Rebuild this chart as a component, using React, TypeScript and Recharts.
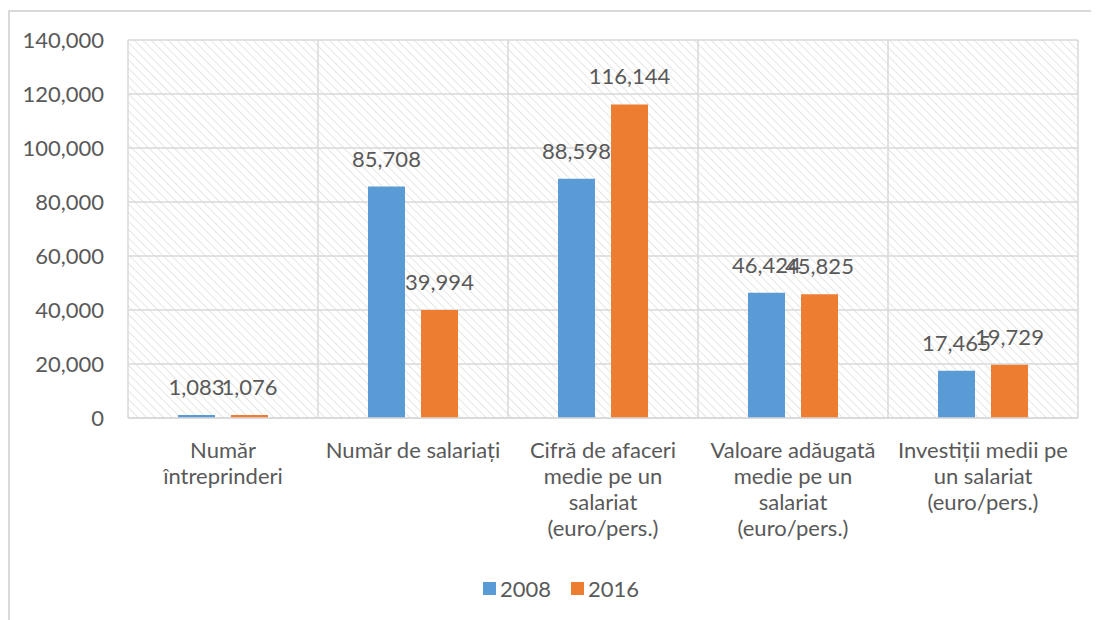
import { BarChart, Bar, XAxis, YAxis, CartesianGrid, Legend, LabelList } from 'recharts';

const categories = [
  'Număr întreprinderi',
  'Număr de salariați',
  'Cifră de afaceri medie pe un salariat (euro/pers.)',
  'Valoare adăugată medie pe un salariat (euro/pers.)',
  'Investiții medii pe un salariat (euro/pers.)',
];

// how each category label wraps under the axis
const categoryLines = [
  ['Număr', 'întreprinderi'],
  ['Număr de salariați'],
  ['Cifră de afaceri', 'medie pe un', 'salariat', '(euro/pers.)'],
  ['Valoare adăugată', 'medie pe un', 'salariat', '(euro/pers.)'],
  ['Investiții medii pe', 'un salariat', '(euro/pers.)'],
];

const values2008 = [1083, 85708, 88598, 46424, 17465];
const values2016 = [1076, 39994, 116144, 45825, 19729];

const yTicks = [0, 20000, 40000, 60000, 80000, 100000, 120000, 140000];

const data = categories.map((name, i) => ({
  name,
  y2008: values2008[i],
  y2016: values2016[i],
}));

const FONT = 'Lato, "Liberation Sans", sans-serif';
const TEXT = '#595959';
const GRID = '#d9d9d9';
const FS = 22;

const fmt = (v: number) => v.toLocaleString('en-US');

function CategoryTick({ x, y, payload }: any) {
  const idx = categories.indexOf(payload.value);
  const lines = idx >= 0 ? categoryLines[idx] : [payload.value];
  return (
    <text x={x} y={y} textAnchor="middle" fill={TEXT} fontSize={FS} fontFamily={FONT}>
      {lines.map((l: string, i: number) => (
        <tspan key={i} x={x} dy={i === 0 ? 32 : 26}>
          {l}
        </tspan>
      ))}
    </text>
  );
}

function LegendContent({ payload }: any) {
  return (
    <div
      style={{
        display: 'flex',
        justifyContent: 'center',
        gap: 20,
        paddingLeft: 16,
        fontFamily: FONT,
        fontSize: FS,
        color: TEXT,
      }}
    >
      {(payload || []).map((p: any) => (
        <div key={p.value} style={{ display: 'flex', alignItems: 'center', gap: 4 }}>
          <span style={{ width: 13, height: 13, background: p.color, display: 'inline-block' }} />
          <span>{p.value}</span>
        </div>
      ))}
    </div>
  );
}

export default function App() {
  return (
    <div style={{ position: 'relative', width: 1091, height: 612, overflow: 'hidden' }}>
      <div
        style={{
          position: 'absolute',
          left: 0,
          top: 2,
          width: 1200,
          height: 700,
          border: `2px solid ${GRID}`,
        }}
      />
      <div style={{ position: 'absolute', left: 0, top: 0 }}>
        <BarChart
          width={1091}
          height={612}
          data={data}
          margin={{ top: 32, right: 21, left: 20, bottom: 18 }}
          barSize={37}
          barGap={16}
        >
          <defs>
            <pattern id="hatch" width={6} height={6} patternUnits="userSpaceOnUse" patternTransform="rotate(-45)">
              <rect width={6} height={6} fill="#ffffff" />
              <line x1={0} y1={0} x2={0} y2={6} stroke="#e6e6e6" strokeWidth={2} />
            </pattern>
          </defs>
          <CartesianGrid
            stroke={GRID}
            strokeWidth={1.5}
            fill="url(#hatch)"
            fillOpacity={1}
            verticalCoordinatesGenerator={({ offset }: any) =>
              categories.map((_, i) => offset.left + (i * offset.width) / categories.length).concat(offset.left + offset.width)
            }
          />
          <XAxis
            dataKey="name"
            tick={<CategoryTick />}
            tickLine={false}
            axisLine={{ stroke: GRID, strokeWidth: 1.5 }}
            interval={0}
            height={157}
          />
          <YAxis
            domain={[0, 140000]}
            ticks={yTicks}
            tickFormatter={fmt}
            axisLine={false}
            tickLine={false}
            tickSize={0}
            tickMargin={24}
            width={100}
            tick={{ fill: TEXT, fontSize: FS, fontFamily: FONT }}
          />
          <Legend verticalAlign="bottom" content={<LegendContent />} />
          <Bar dataKey="y2008" name="2008" fill="#5B9BD5" isAnimationActive={false}>
            <LabelList dataKey="y2008" position="top" offset={20} formatter={fmt} fill={TEXT} fontSize={FS} fontFamily={FONT} />
          </Bar>
          <Bar dataKey="y2016" name="2016" fill="#ED7D31" isAnimationActive={false}>
            <LabelList dataKey="y2016" position="top" offset={20} formatter={fmt} fill={TEXT} fontSize={FS} fontFamily={FONT} />
          </Bar>
        </BarChart>
      </div>
    </div>
  );
}
